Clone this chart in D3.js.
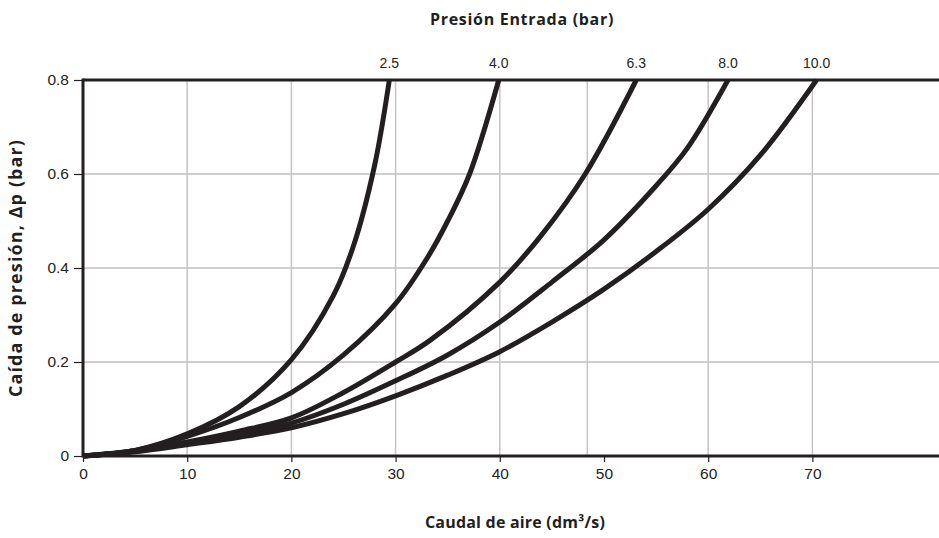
<!DOCTYPE html>
<html>
<head>
<meta charset="utf-8">
<script src="https://cdn.jsdelivr.net/npm/d3@7"></script>
<style>
  html, body { margin: 0; padding: 0; background: #fff; }
  svg { display: block; }
</style>
</head>
<body>
<svg id="chart" width="939" height="538"></svg>
<script>
// ---- Data ----
const pressures = ["2.5", "4.0", "6.3", "8.0", "10.0"];
const flow_2_5  = [0, 5, 10, 15, 20, 24, 26, 28, 29.4];
const drop_2_5  = [0, 0.012, 0.047, 0.105, 0.205, 0.34, 0.45, 0.62, 0.80];
const flow_4_0  = [0, 5, 10, 15, 20, 25, 30, 33, 35, 37.1, 39.9];
const drop_4_0  = [0, 0.012, 0.042, 0.082, 0.135, 0.215, 0.324, 0.42, 0.50, 0.60, 0.80];
const flow_6_3  = [0, 5, 10, 15, 20, 25, 30, 33.3, 40, 44, 48.2, 53.1];
const drop_6_3  = [0, 0.011, 0.03, 0.053, 0.081, 0.135, 0.20, 0.246, 0.37, 0.47, 0.60, 0.80];
const flow_8_0  = [0, 5, 10, 15, 20, 25, 30, 35, 40, 45, 50, 55, 58, 61.9];
const drop_8_0  = [0, 0.01, 0.027, 0.046, 0.07, 0.11, 0.16, 0.215, 0.285, 0.37, 0.46, 0.575, 0.655, 0.80];
const flow_10_0 = [0, 5, 10, 15, 20, 25, 30, 35, 40, 45, 50, 55, 60, 65, 70.4];
const drop_10_0 = [0, 0.009, 0.024, 0.04, 0.06, 0.09, 0.128, 0.172, 0.222, 0.285, 0.355, 0.435, 0.525, 0.64, 0.80];
const xTicks = [0, 10, 20, 30, 40, 50, 60, 70];
const yTicks = [0, 0.2, 0.4, 0.6, 0.8];
const yTickLabels = ["0", "0.2", "0.4", "0.6", "0.8"];
const xGrid = [10, 20, 30, 40, 48.4, 60, 70];
const yGrid = [0.2, 0.4, 0.6];
const xTitle = "Caudal de aire (dm³/s)";
const yTitle = "Caída de presión, Δp (bar)";
const topTitle = "Presión Entrada (bar)";

const flows = [flow_2_5, flow_4_0, flow_6_3, flow_8_0, flow_10_0];
const drops = [drop_2_5, drop_4_0, drop_6_3, drop_8_0, drop_10_0];
const series = pressures.map((p, i) => ({
  name: p,
  points: flows[i].map((f, j) => ({ x: f, y: drops[i][j] }))
}));

// ---- Layout ----
const svg = d3.select("#chart");
const mLeft = 83, mRight = 939, mTop = 80, mBottom = 456;
const x = d3.scaleLinear().domain([0, 82.15]).range([mLeft, mRight]);
const y = d3.scaleLinear().domain([0, 0.8]).range([mBottom, mTop]);
const ink = "#231f20";

// grid
svg.append("g").selectAll("line").data(yGrid).join("line")
  .attr("x1", mLeft).attr("x2", mRight)
  .attr("y1", d => y(d)).attr("y2", d => y(d))
  .attr("stroke", "#a0a0a0").attr("stroke-width", 1.2);
svg.append("g").selectAll("line").data(xGrid).join("line")
  .attr("x1", d => x(d)).attr("x2", d => x(d))
  .attr("y1", mTop).attr("y2", mBottom)
  .attr("stroke", "#c4c4c4").attr("stroke-width", 1.5);

// axes
const xAxis = d3.axisBottom(x).tickValues(xTicks).tickSize(6).tickPadding(6).tickFormat(d3.format("d"));
const gx = svg.append("g").attr("transform", `translate(0,${mBottom})`).call(xAxis);
gx.select(".domain").remove();
gx.selectAll(".tick line").attr("stroke", ink).attr("stroke-width", 1.2);
gx.selectAll(".tick text").attr("fill", ink)
  .style("font-family", "'Liberation Sans', Arial, sans-serif").style("font-size", "15.5px");

const yAxis = d3.axisLeft(y).tickValues(yTicks).tickSize(9).tickPadding(5)
  .tickFormat((d, i) => yTickLabels[i]);
const gy = svg.append("g").attr("transform", `translate(${mLeft},0)`).call(yAxis);
gy.select(".domain").remove();
gy.selectAll(".tick line").attr("stroke", ink).attr("stroke-width", 1.2);
gy.selectAll(".tick text").attr("fill", ink)
  .style("font-family", "'Liberation Sans', Arial, sans-serif").style("font-size", "15.5px");

// frame lines
svg.append("line").attr("x1", mLeft).attr("x2", mRight).attr("y1", mTop).attr("y2", mTop)
  .attr("stroke", ink).attr("stroke-width", 3);
svg.append("line").attr("x1", mLeft).attr("x2", mRight).attr("y1", mBottom).attr("y2", mBottom)
  .attr("stroke", ink).attr("stroke-width", 3);
svg.append("line").attr("x1", mLeft).attr("x2", mLeft).attr("y1", mTop - 1.5).attr("y2", mBottom + 1.5)
  .attr("stroke", ink).attr("stroke-width", 3);

// curves
const line = d3.line().x(d => x(d.x)).y(d => y(d.y)).curve(d3.curveCatmullRom.alpha(0.5));
svg.append("g").selectAll("path").data(series).join("path")
  .attr("d", d => line(d.points))
  .attr("fill", "none").attr("stroke", ink).attr("stroke-width", 5)
  .attr("stroke-linecap", "butt");

// curve labels
svg.append("g").selectAll("text").data(series).join("text")
  .attr("x", d => x(d.points[d.points.length - 1].x))
  .attr("y", mTop - 12)
  .attr("text-anchor", "middle")
  .attr("fill", ink)
  .style("font-family", "'Liberation Sans Narrow', 'Liberation Sans', Arial, sans-serif")
  .style("font-size", "14px")
  .text(d => d.name);

// titles
const titleFont = "'Open Sans', 'Lato', sans-serif";
svg.append("text").attr("x", 522).attr("y", 25).attr("text-anchor", "middle")
  .attr("fill", ink).style("font-family", titleFont).style("font-weight", "700")
  .style("font-size", "16px").style("letter-spacing", "0.7px")
  .text(topTitle);
svg.append("text").attr("x", 515).attr("y", 528).attr("text-anchor", "middle")
  .attr("fill", ink).style("font-family", titleFont).style("font-weight", "700")
  .style("font-size", "16px").style("letter-spacing", "0.2px")
  .text(xTitle);
svg.append("text").attr("transform", `translate(22,268) rotate(-90)`).attr("text-anchor", "middle")
  .attr("fill", ink).style("font-family", titleFont).style("font-weight", "700")
  .style("font-size", "18px").style("letter-spacing", "1.1px")
  .text(yTitle);
</script>
</body>
</html>
